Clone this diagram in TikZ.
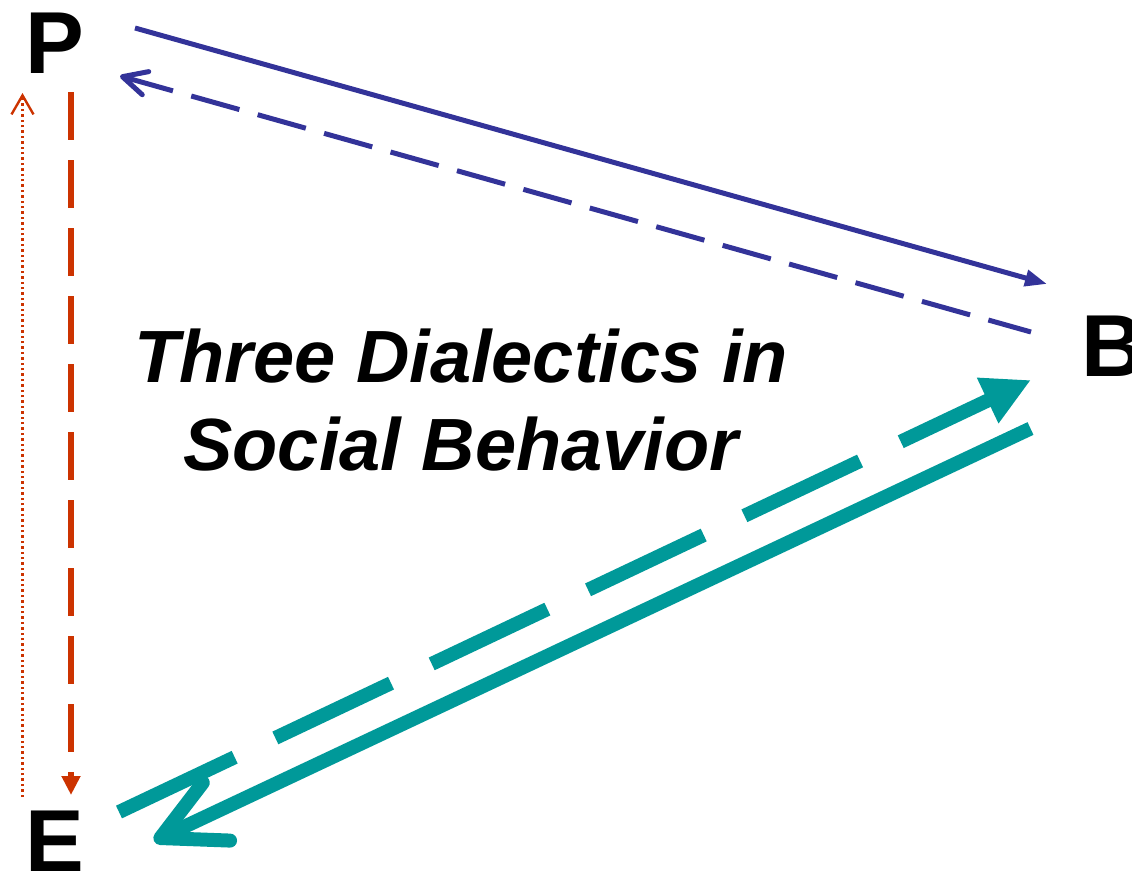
\documentclass[tikz,border=0pt]{standalone}
\usepackage{fontspec}
\setmainfont{Liberation Sans}
\usetikzlibrary{arrows.meta}
\definecolor{pblue}{HTML}{333399}
\definecolor{pred}{HTML}{CC3300}
\definecolor{pteal}{HTML}{009999}
\tikzset{
  letter/.style={font=\fontsize{88}{88}\selectfont\bfseries, inner sep=0pt, anchor=base west},
  titleline/.style={font=\fontsize{74}{88}\selectfont\bfseries\itshape, inner sep=0pt, anchor=base},
  blueline/.style={draw=pblue, line width=5pt},
  bluedash/.style={blueline, dash pattern=on 50pt off 19pt},
  redline/.style={draw=pred, line width=6pt, dash pattern=on 48pt off 20pt},
  reddot/.style={draw=pred, line width=2.4pt, dash pattern=on 2.4pt off 3pt},
  tealline/.style={draw=pteal, line width=14pt},
  tealdash/.style={tealline, dash pattern=on 128pt off 45pt},
}
\begin{document}
\begin{tikzpicture}[x=1pt,y=-1pt]
\useasboundingbox (0,0) rectangle (1132,873);

\node[letter] (P) at (25,73) {P};
\node[letter] (B) at (1081.5,376) {B};
\node[letter] (E) at (25.5,871) {E};
\node[titleline] (t1) at (461,382) {Three Dialectics in};
\node[titleline] (t2) at (461,470) {Social Behavior};

% end points of the connectors
\coordinate (pb1) at (135,28);
\coordinate (pb2) at (1047,284);
\coordinate (bp1) at (120,76);
\coordinate (bp2) at (1031,332);
\coordinate (pe1) at (71,92);
\coordinate (pe2) at (71,795);
\coordinate (ep1) at (22.5,797);
\coordinate (ep2) at (22.5,93);
\coordinate (eb1) at (119,812);
\coordinate (eb2) at (1031,380);
\coordinate (be1) at (1030.5,428.5);
\coordinate (be2) at (154,841);

% P <-> B
\draw[blueline, -{Triangle[length=22pt,width=16pt]}] (pb1) -- (pb2);
\draw[bluedash, {Straight Barb[length=24pt,width=24pt,line cap=round,line join=round]}-] (bp1) -- (bp2);
% P <-> E
\draw[redline, -{Triangle[length=19pt,width=18pt]}] (pe1) -- (pe2);
\draw[reddot, -{Straight Barb[length=19pt,width=22pt]}] (ep1) -- (ep2);
% E <-> B
\draw[tealdash, -{Triangle[length=48pt,width=47pt]}] (eb1) -- (eb2);
\draw[tealline, -{Straight Barb[length=62pt,width=64pt,line cap=round,line join=round]}] (be1) -- (be2);
\end{tikzpicture}
\end{document}
